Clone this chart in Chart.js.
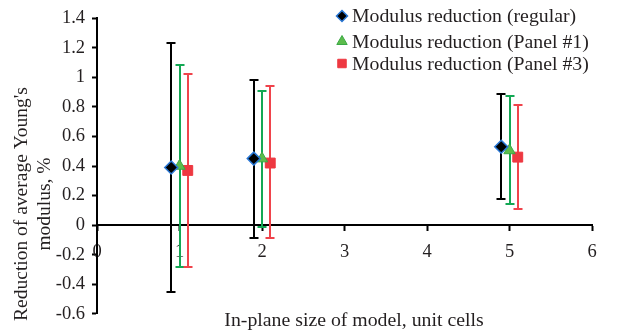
<!DOCTYPE html>
<html>
<head>
<meta charset="utf-8">
<script src="https://cdn.jsdelivr.net/npm/chart.js@4/dist/chart.umd.min.js"></script>
<style>
  html, body { margin: 0; padding: 0; background: #fff; }
  #wrap { width: 624px; height: 332px; position: relative; }
</style>
</head>
<body>
<div id="wrap"><canvas id="chart"></canvas></div>
<script>
// Series data: x positions are offset a little around each model size
const seriesLabels = ['Modulus reduction (regular)', 'Modulus reduction (Panel #1)', 'Modulus reduction (Panel #3)'];

const regularX = [0.9, 1.9, 4.9];
const regularY = [0.39, 0.45, 0.53];
const regularLow = [-0.45, -0.09, 0.175];
const regularHigh = [1.23, 0.98, 0.89];

const panel1X = [1.0, 2.0, 5.0];
const panel1Y = [0.40, 0.45, 0.505];
const panel1Low = [-0.28, -0.01, 0.14];
const panel1High = [1.08, 0.91, 0.875];

const panel3X = [1.1, 2.1, 5.1];
const panel3Y = [0.37, 0.42, 0.46];
const panel3Low = [-0.28, -0.09, 0.11];
const panel3High = [1.02, 0.94, 0.81];

const xTitle = 'In-plane size of model, unit cells';
const yTitle = ["Reduction of average Young's", 'modulus, %'];

const FONT = '"Liberation Serif", "Times New Roman", serif';
const TEXT = '#231f20';

function points(xs, ys) {
    return xs.map((x, i) => ({ x: x, y: ys[i] }));
}

// Error bars drawn underneath the markers
const errorBars = {
    id: 'errorBars',
    beforeDatasetsDraw(chart) {
        const ctx = chart.ctx;
        const xs = chart.scales.x, ys = chart.scales.y;
        chart.data.datasets.forEach((ds) => {
            ctx.save();
            ctx.strokeStyle = ds.errColor;
            ctx.lineWidth = 2;
            ds.data.forEach((p, j) => {
                const px = Math.round(xs.getPixelForValue(p.x));
                const top = Math.round(ys.getPixelForValue(ds.high[j]));
                const bot = Math.round(ys.getPixelForValue(ds.low[j]));
                ctx.beginPath();
                ctx.moveTo(px, top); ctx.lineTo(px, bot);
                ctx.moveTo(px - 4.5, top); ctx.lineTo(px + 4.5, top);
                ctx.moveTo(px - 4.5, bot); ctx.lineTo(px + 4.5, bot);
                ctx.stroke();
            });
            ctx.restore();
        });
    }
};

// Legend in the upper right plus both axis titles
const annotations = {
    id: 'annotations',
    afterDraw(chart) {
        const ctx = chart.ctx;
        ctx.save();
        ctx.font = '19.8px ' + FONT;
        ctx.fillStyle = TEXT;
        ctx.textBaseline = 'middle';
        const rows = [16, 41.5, 63.5];
        chart.data.datasets.forEach((ds, i) => {
            ctx.save();
            ctx.fillStyle = ds.backgroundColor;
            ctx.strokeStyle = ds.borderColor;
            ctx.lineWidth = ds.pointBorderWidth;
            Chart.helpers.drawPoint(ctx, {
                pointStyle: ds.pointStyle,
                radius: ds.legendRadius,
                rotation: 0,
                borderWidth: ds.pointBorderWidth
            }, 342, rows[i]);
            ctx.restore();
            ctx.textAlign = 'left';
            ctx.fillText(ds.label, 352, rows[i] + 1);
        });

        ctx.textAlign = 'center';
        ctx.fillText(xTitle, 354, 321);

        ctx.font = '19.5px ' + FONT;
        ctx.translate(0, 204);
        ctx.rotate(-Math.PI / 2);
        ctx.fillText(yTitle[0], 0, 22);
        ctx.fillText(yTitle[1], 0, 45);
        ctx.restore();
    }
};

new Chart(document.getElementById('chart'), {
    type: 'scatter',
    data: {
        datasets: [
            {
                label: seriesLabels[0],
                data: points(regularX, regularY),
                low: regularLow, high: regularHigh,
                errColor: '#000000',
                pointStyle: 'rectRot',
                pointRadius: 6.5, legendRadius: 5.5,
                backgroundColor: '#000000',
                borderColor: '#2a78d6',
                pointBorderWidth: 1.5
            },
            {
                label: seriesLabels[1],
                data: points(panel1X, panel1Y),
                low: panel1Low, high: panel1High,
                errColor: '#13a854',
                pointStyle: 'triangle',
                pointRadius: 6.5, legendRadius: 6,
                backgroundColor: '#5cbc4c',
                borderColor: '#3aa845',
                pointBorderWidth: 1
            },
            {
                label: seriesLabels[2],
                data: points(panel3X, panel3Y),
                low: panel3Low, high: panel3High,
                errColor: '#f0434b',
                pointStyle: 'rect',
                pointRadius: 7, legendRadius: 6,
                backgroundColor: '#ee3841',
                borderColor: '#ee3841',
                pointBorderWidth: 1
            }
        ]
    },
    options: {
        responsive: true,
        maintainAspectRatio: false,
        animation: false,
        layout: { padding: { left: 0, right: 32, top: 17.5, bottom: 14.5 } },
        plugins: {
            legend: { display: false },
            tooltip: { enabled: false }
        },
        scales: {
            x: {
                type: 'linear',
                position: { y: 0 },
                min: 0, max: 6,
                ticks: {
                    stepSize: 1,
                    padding: 11,
                    color: TEXT,
                    font: { family: FONT, size: 18.5 }
                },
                grid: { drawOnChartArea: false, tickLength: 5, tickWidth: 2, tickColor: '#000' },
                border: { color: '#000', width: 2 }
            },
            y: {
                type: 'linear',
                position: 'left',
                min: -0.6, max: 1.4,
                afterFit(scale) { scale.width = 97; },
                ticks: {
                    stepSize: 0.2,
                    padding: 7,
                    color: TEXT,
                    font: { family: FONT, size: 18.5 },
                    callback: v => String(Number(v.toFixed(1)))
                },
                grid: { drawOnChartArea: false, tickLength: 5, tickWidth: 2, tickColor: '#000' },
                border: { color: '#000', width: 2 }
            }
        }
    },
    plugins: [errorBars, annotations]
});
</script>
</body>
</html>
